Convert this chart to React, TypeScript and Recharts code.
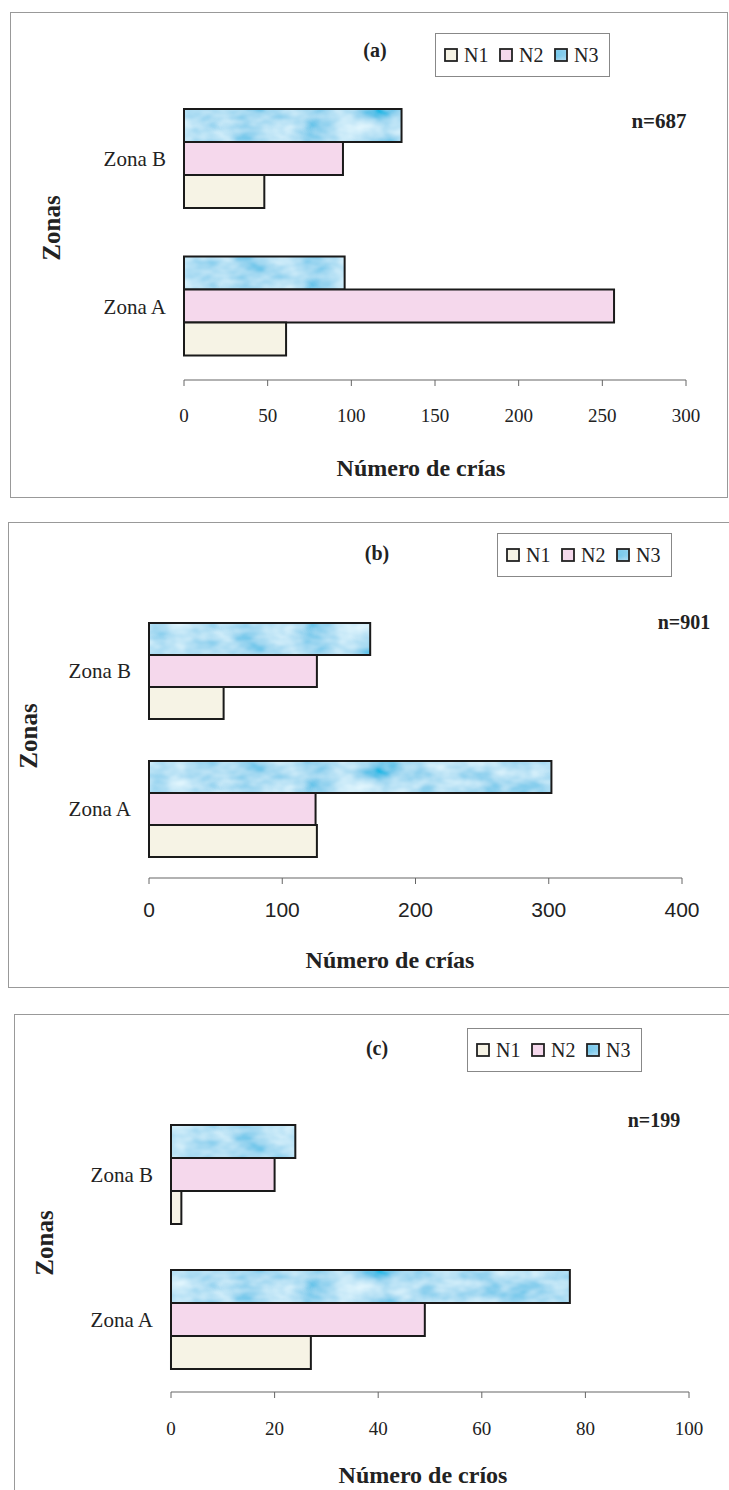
import React from 'react';
import { BarChart, Bar, XAxis, YAxis, Legend } from 'recharts';

// categories (top to bottom)
const zones = ['Zona B', 'Zona A'];

// panel (a)
const a_N1 = [48, 61];
const a_N2 = [95, 257];
const a_N3 = [130, 96];
const a_ticks = [0, 50, 100, 150, 200, 250, 300];

// panel (b)
const b_N1 = [56, 126];
const b_N2 = [126, 125];
const b_N3 = [166, 302];
const b_ticks = [0, 100, 200, 300, 400];

// panel (c)
const c_N1 = [2, 27];
const c_N2 = [20, 49];
const c_N3 = [24, 77];
const c_ticks = [0, 20, 40, 60, 80, 100];

const seriesNames = ['N1', 'N2', 'N3'];
const serif = '"Liberation Serif", "DejaVu Serif", serif';
const sans = '"Liberation Sans", Arial, sans-serif';

const CREAM = '#f6f3e5';
const PINK = '#f5d8ec';

const buildRows = (n1: number[], n2: number[], n3: number[]) =>
  zones.map((z, i) => ({ zona: z, N1: n1[i], N2: n2[i], N3: n3[i] }));

// marbled blue fill, made with svg noise
const BlueTexture = ({ id }: { id: string }) => (
  <defs>
    <filter id={`${id}-f`} x="0" y="0" width="100%" height="100%">
      <feTurbulence type="fractalNoise" baseFrequency="0.03 0.06" numOctaves="3" seed="4" stitchTiles="stitch" />
      <feColorMatrix
        type="matrix"
        values="-0.925 0 0 0 0.8975  -0.55 0 0 0 1.005  -0.25 0 0 0 1.025  0 0 0 0 1"
      />
    </filter>
    <pattern id={id} patternUnits="userSpaceOnUse" width="700" height="40">
      <rect width="700" height="40" filter={`url(#${id}-f)`} />
    </pattern>
  </defs>
);

const LegendBox = ({ blueId }: { blueId: string }) => {
  const fills = [CREAM, PINK, `url(#${blueId})`];
  return (
    <div
      style={{
        width: 175,
        height: 44,
        boxSizing: 'border-box',
        border: '1px solid #888',
        background: '#fff',
        display: 'flex',
        alignItems: 'center',
        paddingLeft: 8,
      }}
    >
      {seriesNames.map((s, i) => (
        <div key={s} style={{ display: 'flex', alignItems: 'center', width: 56 }}>
          <svg width="15" height="14" style={{ marginRight: 5 }}>
            <rect x="1" y="1" width="12" height="12" fill={fills[i]} stroke="#222" strokeWidth="1.8" />
          </svg>
          <span style={{ fontFamily: serif, fontSize: 20, color: '#222' }}>{s}</span>
        </div>
      ))}
    </div>
  );
};

interface PanelProps {
  top: number;
  height: number;
  rows: { zona: string; N1: number; N2: number; N3: number }[];
  ticks: number[];
  plotLeft: number;
  plotRight: number;
  plotTop: number;
  axisY: number;
  barSize: number;
  tickFont: string;
  tickSize: number;
  tickGap: number;
  blueId: string;
  legendLeft: number;
  legendTop: number;
}

const Panel: React.FC<PanelProps> = (p) => (
  <div style={{ position: 'absolute', left: 0, top: p.top }}>
    <BarChart
      width={729}
      height={p.height}
      data={p.rows}
      layout="vertical"
      barGap={0}
      barSize={p.barSize}
      margin={{ top: p.plotTop, right: 729 - p.plotRight, left: 0, bottom: p.height - p.axisY - 40 }}
    >
      <BlueTexture id={p.blueId} />
      <XAxis
        type="number"
        domain={[p.ticks[0], p.ticks[p.ticks.length - 1]]}
        ticks={p.ticks}
        interval={0}
        height={40}
        axisLine={{ stroke: '#666', strokeWidth: 1.2 }}
        tickLine={{ stroke: '#666' }}
        tickSize={6}
        tickMargin={p.tickGap}
        tick={{ fontFamily: p.tickFont, fontSize: p.tickSize, fill: '#222' }}
      />
      <YAxis
        type="category"
        dataKey="zona"
        width={p.plotLeft}
        axisLine={false}
        tickLine={false}
        tickSize={0}
        tickMargin={18}
        tick={{ fontFamily: serif, fontSize: 21, fill: '#222' }}
      />
      <Legend
        layout="vertical"
        align="center"
        verticalAlign="middle"
        wrapperStyle={{ position: 'absolute', left: p.legendLeft, top: p.legendTop, width: 175, height: 44 }}
        content={() => <LegendBox blueId={p.blueId} />}
      />
      <Bar dataKey="N3" fill={`url(#${p.blueId})`} stroke="#1a1a1a" strokeWidth={2} isAnimationActive={false} />
      <Bar dataKey="N2" fill={PINK} stroke="#1a1a1a" strokeWidth={2} isAnimationActive={false} />
      <Bar dataKey="N1" fill={CREAM} stroke="#1a1a1a" strokeWidth={2} isAnimationActive={false} />
    </BarChart>
  </div>
);

const Txt = ({ x, y, children, size = 21, bold = false, rotate = false }: any) => (
  <div
    style={{
      position: 'absolute',
      left: x,
      top: y,
      transform: `translate(-50%, -50%)${rotate ? ' rotate(-90deg)' : ''}`,
      fontFamily: serif,
      fontSize: size,
      fontWeight: bold ? 'bold' : 'normal',
      color: '#222',
      whiteSpace: 'nowrap',
      lineHeight: 1,
    }}
  >
    {children}
  </div>
);

const Frame = ({ left, top, right, bottom }: any) => (
  <div
    style={{
      position: 'absolute',
      left,
      top,
      width: right - left,
      height: bottom - top,
      border: '1px solid #999',
      boxSizing: 'border-box',
    }}
  />
);

export default function App() {
  return (
    <div style={{ position: 'absolute', left: 0, top: 0, width: 729, height: 1490, background: '#fff', overflow: 'hidden' }}>
      <Frame left={10} top={12} right={728} bottom={498} />
      <Frame left={8} top={522} right={730} bottom={988} />
      <Frame left={14} top={1014} right={730} bottom={1500} />

      <Panel
        top={0}
        height={500}
        rows={buildRows(a_N1, a_N2, a_N3)}
        ticks={a_ticks}
        plotLeft={184}
        plotRight={686}
        plotTop={85}
        axisY={380}
        barSize={33}
        tickFont={serif}
        tickSize={19}
        tickGap={23}
        blueId="blueA"
        legendLeft={435}
        legendTop={33}
      />
      <Panel
        top={500}
        height={500}
        rows={buildRows(b_N1, b_N2, b_N3)}
        ticks={b_ticks}
        plotLeft={149}
        plotRight={682}
        plotTop={102}
        axisY={378}
        barSize={32}
        tickFont={sans}
        tickSize={21}
        tickGap={18}
        blueId="blueB"
        legendLeft={497}
        legendTop={33}
      />
      <Panel
        top={1000}
        height={490}
        rows={buildRows(c_N1, c_N2, c_N3)}
        ticks={c_ticks}
        plotLeft={171}
        plotRight={689}
        plotTop={102}
        axisY={392}
        barSize={33}
        tickFont={serif}
        tickSize={19}
        tickGap={24}
        blueId="blueC"
        legendLeft={467}
        legendTop={28}
      />

      <Txt x={375} y={50} bold size={20}>(a)</Txt>
      <Txt x={659} y={121} bold size={21}>n=687</Txt>
      <Txt x={51} y={228} bold size={25} rotate>Zonas</Txt>
      <Txt x={421} y={468} bold size={24}>Número de crías</Txt>

      <Txt x={377} y={553} bold size={20}>(b)</Txt>
      <Txt x={684} y={622} bold size={20}>n=901</Txt>
      <Txt x={28} y={736} bold size={25} rotate>Zonas</Txt>
      <Txt x={390} y={960} bold size={24}>Número de crías</Txt>

      <Txt x={377} y={1048} bold size={20}>(c)</Txt>
      <Txt x={654} y={1120} bold size={20}>n=199</Txt>
      <Txt x={44} y={1243} bold size={25} rotate>Zonas</Txt>
      <Txt x={423} y={1475} bold size={24}>Número de críos</Txt>
    </div>
  );
}
